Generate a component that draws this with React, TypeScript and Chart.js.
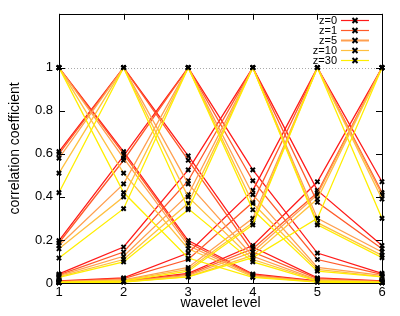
import React, { useEffect, useRef } from "react";
import { Chart, registerables } from "chart.js";

Chart.register(...registerables);

const levels = [1, 2, 3, 4, 5, 6];
const zLabels = ["z=0", "z=1", "z=5", "z=10", "z=30"];
const zColors = ["#ff1a1a", "#ff5a2a", "#ffa050", "#ffc040", "#ffee00"];
const yTickValues = [0, 0.2, 0.4, 0.6, 0.8, 1];

// correlation of each reference level (row) with levels 1..6
const z0Rows = [
  [1, 0.61, 0.197, 0.042, 0.01, 0.003],
  [0.61, 1, 0.59, 0.167, 0.024, 0.01],
  [0.197, 0.59, 1, 0.525, 0.139, 0.045],
  [0.042, 0.167, 0.525, 1, 0.43, 0.174],
  [0.01, 0.024, 0.139, 0.43, 1, 0.47],
  [0.003, 0.01, 0.045, 0.174, 0.47, 1],
];
const z1Rows = [
  [1, 0.6, 0.187, 0.038, 0.008, 0.002],
  [0.6, 1, 0.57, 0.144, 0.02, 0.008],
  [0.187, 0.57, 1, 0.475, 0.109, 0.04],
  [0.038, 0.144, 0.475, 1, 0.375, 0.159],
  [0.008, 0.02, 0.109, 0.375, 1, 0.42],
  [0.002, 0.008, 0.04, 0.159, 0.42, 1],
];
const z5Rows = [
  [1, 0.58, 0.174, 0.034, 0.006, 0.002],
  [0.58, 1, 0.46, 0.124, 0.015, 0.006],
  [0.174, 0.46, 1, 0.41, 0.072, 0.035],
  [0.034, 0.124, 0.41, 1, 0.3, 0.144],
  [0.006, 0.015, 0.072, 0.3, 1, 0.41],
  [0.002, 0.006, 0.035, 0.144, 0.41, 1],
];
const z10Rows = [
  [1, 0.51, 0.159, 0.03, 0.005, 0.001],
  [0.51, 1, 0.4, 0.109, 0.012, 0.005],
  [0.159, 0.4, 1, 0.37, 0.063, 0.03],
  [0.03, 0.109, 0.37, 1, 0.28, 0.128],
  [0.005, 0.012, 0.063, 0.28, 1, 0.39],
  [0.001, 0.005, 0.03, 0.128, 0.39, 1],
];
const z30Rows = [
  [1, 0.42, 0.116, 0.026, 0.004, 0.001],
  [0.42, 1, 0.345, 0.098, 0.009, 0.004],
  [0.116, 0.345, 1, 0.34, 0.055, 0.028],
  [0.026, 0.098, 0.34, 1, 0.27, 0.118],
  [0.004, 0.009, 0.055, 0.27, 1, 0.3],
  [0.001, 0.004, 0.028, 0.118, 0.3, 1],
];
const allRows = [z0Rows, z1Rows, z5Rows, z10Rows, z30Rows];

const FONT = "'Liberation Sans', Arial, sans-serif";

function drawCross(ctx: CanvasRenderingContext2D, x: number, y: number, r: number) {
  ctx.beginPath();
  ctx.moveTo(x - r, y - r);
  ctx.lineTo(x + r, y + r);
  ctx.moveTo(x - r, y + r);
  ctx.lineTo(x + r, y - r);
  ctx.stroke();
}

const framePlugin = {
  id: "gnuFrame",
  beforeDatasetsDraw(chart: any) {
    const { ctx, chartArea } = chart;
    const y = chart.scales.y.getPixelForValue(1);
    ctx.save();
    ctx.strokeStyle = "#aaaaaa";
    ctx.lineWidth = 1;
    ctx.setLineDash([1, 2]);
    ctx.beginPath();
    ctx.moveTo(chartArea.left, Math.round(y) + 0.5);
    ctx.lineTo(chartArea.right, Math.round(y) + 0.5);
    ctx.stroke();
    ctx.restore();
  },
  afterDraw(chart: any) {
    const { ctx, chartArea } = chart;
    const { left, right, top, bottom } = chartArea;
    ctx.save();
    ctx.strokeStyle = "#000";
    ctx.lineWidth = 1;
    ctx.setLineDash([]);
    ctx.strokeRect(Math.round(left) + 0.5, Math.round(top) + 0.5, Math.round(right - left), Math.round(bottom - top));
    const tl = 6;
    ctx.beginPath();
    yTickValues.forEach((v) => {
      const py = Math.round(chart.scales.y.getPixelForValue(v)) + 0.5;
      ctx.moveTo(left, py);
      ctx.lineTo(left + tl, py);
      ctx.moveTo(right, py);
      ctx.lineTo(right - tl, py);
    });
    levels.forEach((v) => {
      const px = Math.round(chart.scales.x.getPixelForValue(v)) + 0.5;
      ctx.moveTo(px, bottom);
      ctx.lineTo(px, bottom - tl);
      ctx.moveTo(px, top);
      ctx.lineTo(px, top + tl);
    });
    ctx.stroke();

    // legend
    ctx.font = `11px ${FONT}`;
    ctx.textAlign = "right";
    ctx.textBaseline = "middle";
    zLabels.forEach((lab, i) => {
      const ry = 20.5 + i * 10;
      ctx.fillStyle = "#000";
      ctx.fillText(lab, 337, ry);
      ctx.strokeStyle = zColors[i];
      ctx.lineWidth = i === 2 ? 2 : 1.2;
      ctx.beginPath();
      ctx.moveTo(341, ry);
      ctx.lineTo(369, ry);
      ctx.stroke();
      ctx.strokeStyle = "#000";
      ctx.lineWidth = 2;
      drawCross(ctx, 355, ry, 2.5);
    });
    ctx.restore();
  },
};

export default function App() {
  const canvasRef = useRef<HTMLCanvasElement | null>(null);

  useEffect(() => {
    if (!canvasRef.current) return;
    const datasets: any[] = [];
    allRows.forEach((rows, zi) => {
      rows.forEach((row) => {
        datasets.push({
          label: zLabels[zi],
          data: row.map((v, i) => ({ x: levels[i], y: v })),
          borderColor: zColors[zi],
          backgroundColor: zColors[zi],
          borderWidth: 1.3,
          pointStyle: "crossRot",
          pointRadius: 3,
          pointBorderColor: "#000",
          pointBackgroundColor: "#000",
          pointBorderWidth: 2,
          tension: 0,
          clip: false,
          order: 10 - zi,
        });
      });
    });

    const chart = new Chart(canvasRef.current, {
      type: "line",
      data: { datasets },
      options: {
        animation: false,
        responsive: true,
        maintainAspectRatio: false,
        layout: { padding: { top: 11, right: 18, left: 0, bottom: 0 } },
        plugins: {
          legend: { display: false },
          tooltip: { enabled: false },
          title: { display: false },
        },
        scales: {
          x: {
            type: "linear",
            min: 1,
            max: 6,
            border: { display: false },
            grid: { display: false, drawTicks: false },
            ticks: {
              stepSize: 1,
              padding: 2,
              color: "#000",
              font: { family: FONT, size: 13 },
              callback: (v: any) => String(v),
            },
            title: {
              display: true,
              text: "wavelet level",
              color: "#000",
              font: { family: FONT, size: 14 },
              padding: { top: 0, bottom: 4 },
            },
            afterFit: (s: any) => {
              s.height = 33;
            },
          },
          y: {
            type: "linear",
            min: 0,
            max: 1.25,
            border: { display: false },
            grid: { display: false, drawTicks: false },
            afterBuildTicks: (s: any) => {
              s.ticks = yTickValues.map((v) => ({ value: v }));
            },
            ticks: {
              padding: 6,
              color: "#000",
              font: { family: FONT, size: 13 },
              callback: (v: any) => String(+Number(v).toFixed(1)),
            },
            title: {
              display: true,
              text: "correlation coefficient",
              color: "#000",
              font: { family: FONT, size: 14 },
              padding: { top: 7, bottom: 0 },
            },
            afterFit: (s: any) => {
              s.width = 59;
            },
          },
        },
      },
      plugins: [framePlugin],
    });
    return () => chart.destroy();
  }, []);

  return (
    <div style={{ position: "fixed", left: 0, top: 0, width: 400, height: 316, background: "#fff" }}>
      <canvas ref={canvasRef} />
    </div>
  );
}
